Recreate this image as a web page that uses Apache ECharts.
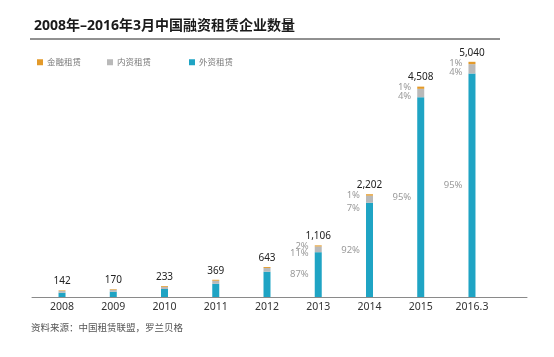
<!DOCTYPE html>
<html>
<head>
<meta charset="utf-8">
<script src="https://cdn.jsdelivr.net/npm/echarts@6/dist/echarts.min.js"></script>
<style>
html,body{margin:0;padding:0;background:#fff;}
#c{width:554px;height:357px;}
</style>
</head>
<body>
<div id="c"></div>
<script>
var categories = ['2008','2009','2010','2011','2012','2013','2014','2015','2016.3'];
var totals = [142,170,233,369,643,1106,2202,4508,5040];
var financeLease = [12,12,17,20,20,23,30,47,50];
var domesticLease = [37,45,45,66,80,123,152,180,202];
var foreignLease = [93,113,171,283,543,960,2020,4281,4788];
var pctFinance = ['','','','','','2%','1%','1%','1%'];
var pctDomestic = ['','','','','','11%','7%','4%','4%'];
var pctForeign = ['','','','','','87%','92%','95%','95%'];
var seriesNames = ['金融租赁','内资租赁','外资租赁'];
var titleText = '2008年–2016年3月中国融资租赁企业数量';
var sourceText = '资料来源：中国租赁联盟，罗兰贝格';

var FONT = '"Noto Sans","Noto Sans CJK SC",sans-serif';
var C_FOREIGN = '#1fa4c4', C_DOMESTIC = '#b9b9b9', C_FIN = '#e39a2a';
var domOffsets = [0,0,0,0,0,4,9,3,3];

var chart = echarts.init(document.getElementById('c'));

function pctLabel(arr, offs){
  return {
    show: true, position: 'left', distance: 6,
    color: '#9a9a9a', fontSize: 9.5, fontFamily: FONT,
    formatter: function(p){ return arr[p.dataIndex]; }
  };
}

var domData = domesticLease.map(function(v,i){
  return {value: v, label: {offset: [0, domOffsets[i]]}};
});

var option = {
  animation: false,
  textStyle: {fontFamily: FONT},
  title: {
    text: titleText, left: 29, top: 14,
    textStyle: {fontSize: 14, fontWeight: 'bold', color: '#1a1a1a', fontFamily: FONT}
  },
  legend: [
    {data: [seriesNames[0]], left: 32, top: 53},
    {data: [seriesNames[1]], left: 102, top: 53},
    {data: [seriesNames[2]], left: 184, top: 53}
  ].map(function(l){
    l.itemWidth = 6; l.itemHeight = 6; l.itemGap = 4; l.icon = 'rect';
    l.textStyle = {fontSize: 8.5, color: '#777', fontFamily: FONT, padding: [0,0,0,-1]};
    return l;
  }),
  grid: [
    {left: 36.4, right: 56.4, top: 17, bottom: 60},
    {left: 32, right: 27, top: 17, bottom: 60}
  ],
  xAxis: [
    {
      type: 'category', data: categories, gridIndex: 0,
      axisLine: {show: false}, axisTick: {show: false},
      axisLabel: {color: '#333', fontSize: 10.5, margin: 5, fontFamily: FONT}
    },
    {
      type: 'value', gridIndex: 1, min: 0, max: 1,
      axisLine: {show: true, lineStyle: {color: '#8a8a8a', width: 1}},
      axisTick: {show: false}, axisLabel: {show: false}, splitLine: {show: false}
    }
  ],
  yAxis: [
    {type: 'value', gridIndex: 0, min: 0, max: 6000, show: false},
    {type: 'value', gridIndex: 1, min: 0, max: 1, show: false}
  ],
  series: [
    {
      name: seriesNames[2], type: 'bar', stack: 'a', barWidth: 7,
      data: foreignLease, itemStyle: {color: C_FOREIGN},
      label: pctLabel(pctForeign)
    },
    {
      name: seriesNames[1], type: 'bar', stack: 'a', barWidth: 7,
      data: domData, itemStyle: {color: C_DOMESTIC},
      label: pctLabel(pctDomestic)
    },
    {
      name: seriesNames[0], type: 'bar', stack: 'a', barWidth: 7,
      data: financeLease, itemStyle: {color: C_FIN},
      label: pctLabel(pctFinance)
    },
    {
      name: 'total', type: 'bar', stack: 'a', barWidth: 7,
      data: totals.map(function(){ return 0; }),
      itemStyle: {color: 'transparent'},
      label: {
        show: true, position: 'top', distance: 4,
        color: '#222', fontSize: 10, fontFamily: FONT,
        formatter: function(p){ return totals[p.dataIndex].toLocaleString('en-US'); }
      }
    }
  ],
  graphic: [
    {type: 'line', shape: {x1: 30, y1: 39, x2: 500, y2: 39}, style: {stroke: '#222', lineWidth: 1}},
    {type: 'text', left: 31, top: 324, style: {text: sourceText, fill: '#555', fontSize: 9.5, fontFamily: FONT}}
  ]
};
chart.setOption(option);
</script>
</body>
</html>
